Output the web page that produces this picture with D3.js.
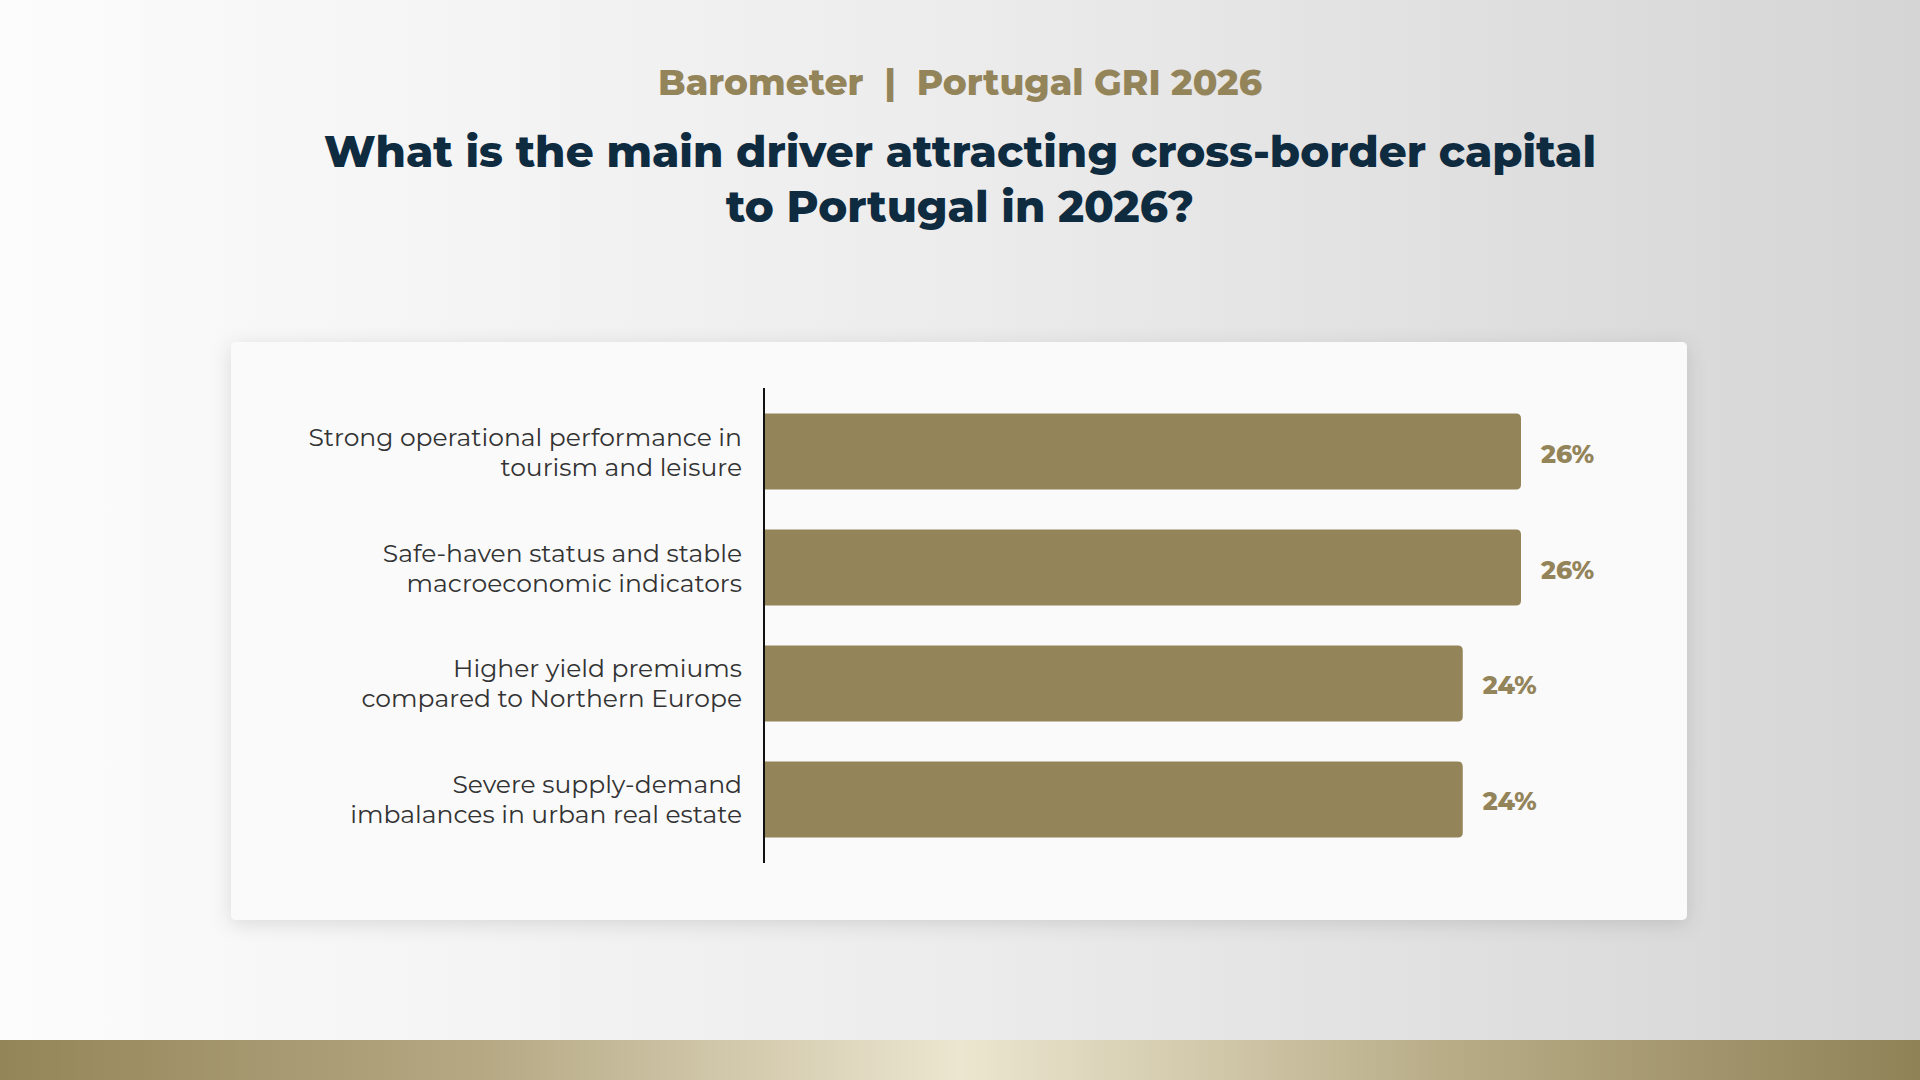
<!DOCTYPE html>
<html>

<head>
    <meta charset="utf-8">
    <script src="https://d3js.org/d3.v7.min.js"></script>
    <style>
      body {
          margin: 0;
          position: fixed;
          top: 0; right: 0; bottom: 0; left: 0;
          overflow: hidden;
          font-family: Montserrat, Inter, sans-serif;
      }
      text { font-family: Montserrat, Inter, sans-serif; }
      .label { fill: #333333; font-size: 25px; font-weight: 400; }
      .value { fill: #94845a; font-size: 25px; font-weight: 800; }
    </style>
</head>

<body>
    <script>

        // chart data
        var categories = [
            ["Strong operational performance in", "tourism and leisure"],
            ["Safe-haven status and stable", "macroeconomic indicators"],
            ["Higher yield premiums", "compared to Northern Europe"],
            ["Severe supply-demand", "imbalances in urban real estate"]
        ];
        var values = [26, 26, 24, 24];
        var valueLabels = ["26%", "26%", "24%", "24%"];

        var subtitle = "Barometer  |  Portugal GRI 2026";
        var titleLines = ["What is the main driver attracting cross-border capital", "to Portugal in 2026?"];

        var width = 1920, height = 1080;
        var gold = "#94845a";

        var svg = d3.select("body").append("svg")
            .attr("width", width).attr("height", height);

        var defs = svg.append("defs");

        var bg = defs.append("linearGradient").attr("id", "bg")
            .attr("x1", "0%").attr("x2", "100%").attr("y1", "0%").attr("y2", "0%");
        bg.append("stop").attr("offset", "0%").attr("stop-color", "#fcfcfc");
        bg.append("stop").attr("offset", "50%").attr("stop-color", "#ececec");
        bg.append("stop").attr("offset", "100%").attr("stop-color", "#d5d5d5");

        var strip = defs.append("linearGradient").attr("id", "strip")
            .attr("x1", "0%").attr("x2", "100%").attr("y1", "0%").attr("y2", "0%");
        strip.append("stop").attr("offset", "0%").attr("stop-color", "#948558");
        strip.append("stop").attr("offset", "25%").attr("stop-color", "#b5a883");
        strip.append("stop").attr("offset", "50%").attr("stop-color", "#ece6d0");
        strip.append("stop").attr("offset", "75%").attr("stop-color", "#b9ad88");
        strip.append("stop").attr("offset", "100%").attr("stop-color", "#8f8257");

        var shadow = defs.append("filter").attr("id", "shadow")
            .attr("x", "-10%").attr("y", "-10%").attr("width", "120%").attr("height", "130%");
        shadow.append("feDropShadow")
            .attr("dx", 0).attr("dy", 4).attr("stdDeviation", 10)
            .attr("flood-color", "#000").attr("flood-opacity", 0.12);

        svg.append("rect").attr("width", width).attr("height", height).attr("fill", "url(#bg)");
        svg.append("rect").attr("x", 0).attr("y", 1040).attr("width", width).attr("height", 40)
            .attr("fill", "url(#strip)");

        // headings
        svg.append("text")
            .attr("x", 960).attr("y", 95)
            .attr("text-anchor", "middle")
            .attr("fill", gold)
            .style("font-size", "36px").style("font-weight", 800)
            .style("white-space", "pre")
            .text(subtitle);

        svg.append("g").selectAll("text")
            .data(titleLines).enter()
            .append("text")
            .attr("x", 960).attr("y", (d, i) => 167 + i * 55)
            .attr("text-anchor", "middle")
            .attr("fill", "#0f2b40")
            .style("font-size", "43.6px").style("font-weight", 800)
            .text(d => d);

        // card
        svg.append("rect")
            .attr("x", 231).attr("y", 342).attr("width", 1456).attr("height", 578)
            .attr("rx", 5)
            .attr("fill", "#fafafa")
            .attr("filter", "url(#shadow)");

        var x = d3.scaleLinear().domain([0, 26]).range([764, 1521]);
        var y = d3.scaleBand().domain(d3.range(values.length))
            .range([388, 863]).paddingInner(0.345).paddingOuter(0.22);

        var r = 5;
        function barPath(d, i) {
            var x0 = x(0), x1 = x(d), y0 = y(i), y1 = y(i) + y.bandwidth();
            return "M" + x0 + "," + y0 +
                "H" + (x1 - r) +
                "Q" + x1 + "," + y0 + " " + x1 + "," + (y0 + r) +
                "V" + (y1 - r) +
                "Q" + x1 + "," + y1 + " " + (x1 - r) + "," + y1 +
                "H" + x0 + "Z";
        }

        svg.append("g").selectAll("path")
            .data(values).enter()
            .append("path")
            .attr("d", barPath)
            .attr("fill", gold);

        // axis line
        svg.append("line")
            .attr("x1", x(0)).attr("x2", x(0))
            .attr("y1", y.range()[0]).attr("y2", y.range()[1])
            .attr("stroke", "#111").attr("stroke-width", 2);

        // category labels
        var labels = svg.append("g").selectAll("text")
            .data(categories).enter()
            .append("text")
            .attr("class", "label")
            .attr("text-anchor", "end")
            .attr("x", x(0) - 22)
            .attr("y", (d, i) => y(i) + y.bandwidth() / 2 - 6);
        labels.selectAll("tspan")
            .data(d => d).enter()
            .append("tspan")
            .attr("x", x(0) - 22)
            .attr("dy", (d, j) => j === 0 ? 0 : 30)
            .text(d => d);

        // value labels
        svg.append("g").selectAll("text")
            .data(values).enter()
            .append("text")
            .attr("class", "value")
            .attr("x", d => x(d) + 20)
            .attr("y", (d, i) => y(i) + y.bandwidth() / 2 + 11)
            .text((d, i) => valueLabels[i]);

    </script>
</body>

</html>
